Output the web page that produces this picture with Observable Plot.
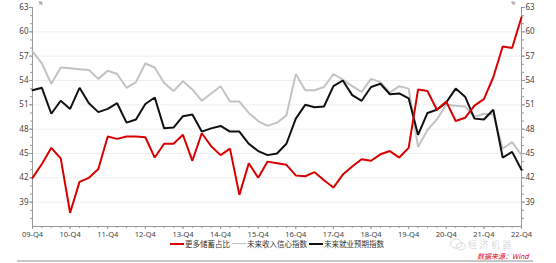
<!DOCTYPE html>
<html>
<head>
<meta charset="utf-8">
<script src="https://cdn.jsdelivr.net/npm/d3@7"></script>
<script src="https://cdn.jsdelivr.net/npm/@observablehq/plot@0.6"></script>
<style>
  html, body { margin: 0; padding: 0; background: #fff; }
  #wrap { position: relative; width: 556px; height: 263px; overflow: hidden; font-family: "Noto Sans CJK SC", "Noto Sans", sans-serif; }
  #legend { position: absolute; top: 238px; left: 170px; font-size: 7.5px; color: #333; display: flex; align-items: center; white-space: nowrap; }
  .sw { display: inline-block; width: 14px; height: 2px; margin-right: 1px; vertical-align: middle; }
  .item { display: flex; align-items: center; margin-right: 2px; }
  #source { position: absolute; top: 252.5px; left: 477px; font-size: 7px; line-height: 7px; height: 7px; color: #e0001b; font-style: italic; white-space: nowrap; }
  #wm { position: absolute; top: 240px; left: 468px; font-size: 9px; line-height: 9px; height: 9px; color: #dadada; white-space: nowrap; letter-spacing: 2.5px; }
  #wmicon { position: absolute; top: 238px; left: 449px; width: 18px; height: 13px; }
  #bottomline { position: absolute; top: 259.5px; left: 17px; width: 516px; height: 2px; background: #c8c8c8; }
</style>
</head>
<body>
<div id="wrap">
  <div id="chart"></div>
  <svg id="wmicon" viewBox="0 0 18 14"><ellipse cx="7" cy="6" rx="6" ry="5" fill="none" stroke="#d8d8d8" stroke-width="1"/><ellipse cx="12" cy="9" rx="5" ry="4" fill="none" stroke="#d8d8d8" stroke-width="1"/></svg>
  <div id="wm">经济机器</div>
  <div id="legend"></div>
  <div id="source">数据来源：Wind</div>
  <div id="bottomline"></div>
</div>
<script>
const xTickLabels = ["09-Q4","10-Q4","11-Q4","12-Q4","13-Q4","14-Q4","15-Q4","16-Q4","17-Q4","18-Q4","19-Q4","20-Q4","21-Q4","22-Q4"];
const seriesNames = ["更多储蓄占比", "未来收入信心指数", "未来就业预期指数"];
const seriesColors = ["#d90000", "#c3c3c3", "#111111"];

// 更多储蓄占比 (quarterly, 09-Q4 .. 22-Q4)
const savings = [42.0,43.7,45.7,44.4,37.7,41.5,42.0,43.1,47.1,46.8,47.1,47.1,47.0,44.5,46.2,46.2,47.3,44.1,47.5,45.9,44.8,45.6,39.9,43.8,42.0,44.0,43.8,43.6,42.3,42.2,42.7,41.7,40.8,42.4,43.4,44.3,44.1,44.9,45.3,44.5,45.7,52.9,52.7,50.4,51.4,49.0,49.4,50.9,51.7,54.4,58.2,58.0,61.8];
// 未来收入信心指数
const income = [57.6,56.1,53.6,55.6,55.5,55.4,55.3,54.2,55.2,54.8,53.1,53.8,56.1,55.6,53.7,52.7,53.9,52.9,51.5,52.4,53.3,51.4,51.4,50.0,49.0,48.4,48.8,49.7,54.8,52.8,52.8,53.2,54.8,54.1,53.3,52.6,54.2,53.8,52.5,53.3,53.0,45.8,47.9,49.2,51.0,50.9,50.8,49.5,49.9,49.8,45.6,46.4,44.8];
// 未来就业预期指数
const employment = [52.8,53.1,49.9,51.5,50.5,53.1,51.2,50.1,50.5,51.2,48.8,49.2,51.1,51.9,48.1,48.2,49.6,49.8,47.7,48.1,48.4,47.7,47.7,46.2,45.3,44.8,45.0,46.2,49.3,51.0,50.7,50.8,53.3,54.0,52.2,51.5,53.2,53.6,52.3,52.4,51.8,47.3,50.0,50.4,51.3,53.0,52.0,49.3,49.2,50.4,44.5,45.2,43.0];

const yMajor = [39,42,45,48,51,54,57,60,63];
const yMinor = d3.range(37, 64, 1);
const xMajor = d3.range(0, 53, 4);
const xMinor = d3.range(0, 53, 1);
const gridVals = [39,42,45,48,51,54,57,60];

const toRows = (arr, name) => arr.map((v, i) => ({i, v, name}));
const rows = [
  ...toRows(income, seriesNames[1]),
  ...toRows(employment, seriesNames[2]),
  ...toRows(savings, seriesNames[0])
];

const tickFont = "Noto Sans, sans-serif";

const chart = Plot.plot({
  width: 556,
  height: 240,
  marginLeft: 32,
  marginRight: 35,
  marginTop: 7,
  marginBottom: 14,
  style: { fontFamily: tickFont, fontSize: "8px", color: "#444", background: "transparent" },
  x: { domain: [0, 52], axis: null },
  y: { domain: [36, 63], axis: null },
  marks: [
    Plot.ruleY(gridVals, { stroke: "#efefef", strokeWidth: 1 }),
    Plot.axisY(yMinor, { anchor: "left", tickSize: 2, tickFormat: () => "", stroke: "#999", label: null }),
    Plot.axisY(yMajor, { anchor: "left", tickSize: 3, tickPadding: 1, stroke: "#999", fill: "#444", label: null }),
    Plot.axisY(yMinor, { anchor: "right", tickSize: 2, tickFormat: () => "", stroke: "#999", label: null }),
    Plot.axisY(yMajor, { anchor: "right", tickSize: 3, tickPadding: 1, stroke: "#999", fill: "#444", label: null }),
    Plot.axisX(xMinor, { anchor: "bottom", tickSize: 2, tickFormat: () => "", stroke: "#999", label: null }),
    Plot.axisX(xMajor, { anchor: "bottom", tickSize: 3, tickPadding: 2, tickFormat: d => xTickLabels[d / 4], stroke: "#999", fill: "#444", fontSize: 7.5, label: null }),
    Plot.ruleX([0, 52], { stroke: "#999", strokeWidth: 1 }),
    Plot.ruleY([36], { stroke: "#999", strokeWidth: 1 }),
    Plot.text(["%"], { frameAnchor: "top-left", dx: 6, dy: -6, fontSize: 5, fill: "#666" }),
    Plot.text(["%"], { frameAnchor: "top-right", dx: -6, dy: -6, fontSize: 5, fill: "#666" }),
    Plot.line(rows, {
      x: "i", y: "v", z: "name",
      stroke: "name",
      strokeWidth: 2,
      strokeLinejoin: "miter"
    })
  ],
  color: { domain: seriesNames, range: seriesColors }
});

document.getElementById("chart").appendChild(chart);

const legend = document.getElementById("legend");
seriesNames.forEach((n, k) => {
  const it = document.createElement("span");
  it.className = "item";
  const sw = document.createElement("span");
  sw.className = "sw";
  sw.style.background = seriesColors[k];
  if (k === 1) sw.style.height = "1.5px";
  it.appendChild(sw);
  it.appendChild(document.createTextNode(n));
  legend.appendChild(it);
});
</script>
</body>
</html>
